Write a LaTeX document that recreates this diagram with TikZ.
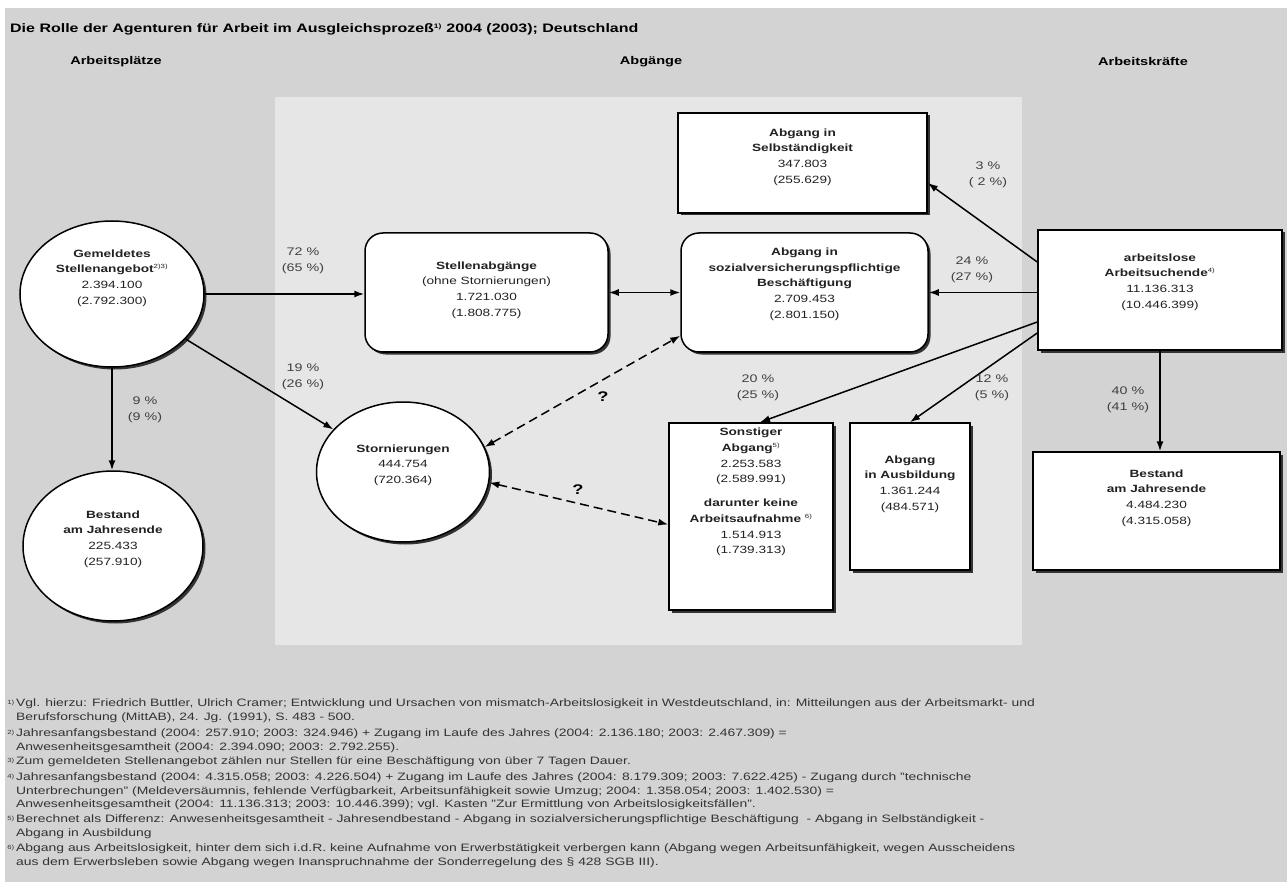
\documentclass[tikz,border=0pt]{standalone}
\usepackage{fontspec}
\setmainfont{Liberation Sans}[FakeStretch=1.3]
\usetikzlibrary{arrows.meta,shapes.geometric,shadows,calc}
\definecolor{bgout}{HTML}{D3D3D3}
\definecolor{bgin}{HTML}{E6E6E6}
\definecolor{txtc}{HTML}{222222}
\begin{document}
\begin{tikzpicture}[x=1pt,y=-1pt,
  shd/.style={drop shadow={shadow xshift=2.5pt,shadow yshift=-2.5pt,fill=black!80,opacity=1}},
  box/.style={draw=black,line width=1.5pt,fill=white,shd,inner sep=0pt},
  rbox/.style={box,rounded corners=18pt},
  ell/.style={ellipse,draw=black,line width=1.5pt,fill=white,shd,inner sep=0pt},
  txt/.style={align=center,inner sep=0pt,text=txtc,font=\fontsize{10.5}{15.7}\selectfont},
  pct/.style={align=center,inner sep=0pt,text=black!75,font=\fontsize{11}{15.5}\selectfont},
  qm/.style={inner sep=0pt,font=\fontsize{14}{16}\selectfont\bfseries},
  hdr/.style={inner sep=0pt,font=\fontsize{11.2}{13}\selectfont\bfseries},
  fn/.style={anchor=north west,align=left,inner sep=0pt,text=black!80,font=\fontsize{10.7}{13.5}\selectfont},
  fnm/.style={anchor=north east,inner sep=0pt,text=black!80,font=\fontsize{6}{7}\selectfont},
  arr/.style={line width=1.5pt,-{Latex[length=10pt,width=7pt]}},
  darr/.style={line width=1.5pt,{Latex[length=10pt,width=7pt]}-{Latex[length=10pt,width=7pt]}},
  dsh/.style={line width=1.5pt,dash pattern=on 9pt off 5pt,{Latex[length=10pt,width=7pt]}-{Latex[length=10pt,width=7pt]}}]
% background
\fill[white] (0,0) rectangle (1287,882);
\fill[bgout] (5,8) rectangle (1287,882);
\fill[bgin] (275,97) rectangle (1022,645);
% title and headers
\node[anchor=base west,inner sep=0pt,font=\fontsize{12.3}{14}\selectfont\bfseries] (title) at (10,33)
  {Die Rolle der Agenturen für Arbeit im Ausgleichsprozeß\textsuperscript{\fontsize{6.5}{7}\selectfont 1)} 2004 (2003); Deutschland};
\node[hdr] (h1) at (116,62) {Arbeitsplätze};
\node[hdr] (h2) at (651,62) {Abgänge};
\node[hdr] (h3) at (1143,62) {Arbeitskräfte};
% shapes
\node[ell,minimum width=184pt,minimum height=146pt] (gem) at (112,294) {};
\node[ell,minimum width=180pt,minimum height=150pt] (bestl) at (113,546) {};
\node[ell,minimum width=173pt,minimum height=140pt] (storn) at (403,472) {};
\node[rbox,minimum width=243pt,minimum height=119pt] (stel) at (486.5,292.5) {};
\node[rbox,minimum width=247pt,minimum height=119pt] (sozv) at (804.5,292.5) {};
\node[box,minimum width=249pt,minimum height=100pt] (selb) at (802.5,163) {};
\node[box,minimum width=244pt,minimum height=120pt] (arbl) at (1160,290) {};
\node[box,minimum width=164pt,minimum height=187pt] (sonst) at (751,516.5) {};
\node[box,minimum width=120pt,minimum height=147pt] (ausb) at (910,496.5) {};
\node[box,minimum width=247pt,minimum height=118pt] (bestr) at (1156.5,511) {};
% texts
\node[txt] (gemt) at (112,278) {\textbf{Gemeldetes}\\\textbf{Stellenangebot}\textsuperscript{\fontsize{6}{7}\selectfont 2)3)}\\2.394.100\\(2.792.300)};
\node[txt] (bestlt) at (113,539) {\textbf{Bestand}\\\textbf{am Jahresende}\\225.433\\(257.910)};
\node[txt] (stornt) at (403,465) {\textbf{Stornierungen}\\444.754\\(720.364)};
\node[txt] (stelt) at (486.5,290) {\textbf{Stellenabgänge}\\(ohne Stornierungen)\\1.721.030\\(1.808.775)};
\node[txt] (sozvt) at (804.5,284) {\textbf{Abgang in}\\\textbf{sozialversicherungspflichtige}\\\textbf{Beschäftigung}\\2.709.453\\(2.801.150)};
\node[txt] (selbt) at (802.5,157) {\textbf{Abgang in}\\\textbf{Selbständigkeit}\\347.803\\(255.629)};
\node[txt] (arblt) at (1160,282) {\textbf{arbeitslose}\\\textbf{Arbeitsuchende}\textsuperscript{\fontsize{6}{7}\selectfont 4)}\\11.136.313\\(10.446.399)};
\node[txt,anchor=north] (sonstt) at (751,428) {\textbf{Sonstiger}\\\textbf{Abgang}\textsuperscript{\fontsize{6}{7}\selectfont 5)}\\2.253.583\\(2.589.991)\\[8pt]\textbf{darunter keine}\\\textbf{Arbeitsaufnahme} \textsuperscript{\fontsize{6}{7}\selectfont 6)}\\1.514.913\\(1.739.313)};
\node[txt] (ausbt) at (910,484) {\textbf{Abgang}\\\textbf{in Ausbildung}\\1.361.244\\(484.571)};
\node[txt] (bestrt) at (1156.5,498) {\textbf{Bestand}\\\textbf{am Jahresende}\\4.484.230\\(4.315.058)};
% connectors
\draw[arr] (gem.east) -- (gem.east -| stel.west);
\draw[arr] (gem) -- (storn);
\draw[arr] (gem.south) -- (gem.south |- bestl.north);
\draw[darr] (stel.east) -- (sozv.east -| sozv.west);
\coordinate (dA) at ($(sozv.south west)+(0,-17)$);
\coordinate (dB) at ($(sonst.west)+(0,8)$);
\draw[dsh] (storn.17) -- (dA);
\draw[dsh] (storn.-7) -- (dB);
\coordinate (a1) at ($(arbl.west)+(0,-28)$);
\coordinate (s1) at ($(selb.east)+(0,20)$);
\draw[arr] (a1) -- (s1);
\draw[arr] (sozv.east -| arbl.west) -- (sozv.east);
\coordinate (a3) at ($(arbl.west)+(0,32)$);
\coordinate (s3) at ($(sonst.north)+(9,0)$);
\draw[arr] (a3) -- (s3);
\coordinate (a4) at ($(arbl.west)+(0,43)$);
\draw[arr] (a4) -- (ausb.north);
\draw[arr] (arbl.south) -- (arbl.south |- bestr.north);
% labels
\node[pct] (p72) at (303,261) {72 \%\\(65 \%)};
\node[pct] (p19) at (303,377) {19 \%\\(26 \%)};
\node[pct] (p9) at (145,410) {9 \%\\(9 \%)};
\node[pct] (p3) at (988,175) {3 \%\\( 2 \%)};
\node[pct] (p24) at (972,270) {24 \%\\(27 \%)};
\node[pct] (p20) at (758,388) {20 \%\\(25 \%)};
\node[pct] (p12) at (992,388) {12 \%\\(5 \%)};
\node[pct] (p40) at (1128,400) {40 \%\\(41 \%)};
\node[qm] (q1) at (603,397) {?};
\node[qm] (q2) at (578,490) {?};
% footnotes
\node[fn] (f1) at (16,699) {Vgl. hierzu: Friedrich Buttler, Ulrich Cramer; Entwicklung und Ursachen von mismatch-Arbeitslosigkeit in Westdeutschland, in: Mitteilungen aus der Arbeitsmarkt- und\\Berufsforschung (MittAB), 24. Jg. (1991), S. 483 - 500.};
\node[fn] (f2) at (16,729) {Jahresanfangsbestand (2004: 257.910; 2003: 324.946) + Zugang im Laufe des Jahres (2004: 2.136.180; 2003: 2.467.309) =\\Anwesenheitsgesamtheit (2004: 2.394.090; 2003: 2.792.255).};
\node[fn] (f3) at (16,757) {Zum gemeldeten Stellenangebot zählen nur Stellen für eine Beschäftigung von über 7 Tagen Dauer.};
\node[fn] (f4) at (16,773) {Jahresanfangsbestand (2004: 4.315.058; 2003: 4.226.504) + Zugang im Laufe des Jahres (2004: 8.179.309; 2003: 7.622.425) - Zugang durch "technische\\Unterbrechungen" (Meldeversäumnis, fehlende Verfügbarkeit, Arbeitsunfähigkeit sowie Umzug; 2004: 1.358.054; 2003: 1.402.530) =\\Anwesenheitsgesamtheit (2004: 11.136.313; 2003: 10.446.399); vgl. Kasten "Zur Ermittlung von Arbeitslosigkeitsfällen".};
\node[fn] (f5) at (16,815) {Berechnet als Differenz: Anwesenheitsgesamtheit - Jahresendbestand - Abgang in sozialversicherungspflichtige Beschäftigung \ - Abgang in Selbständigkeit -\\Abgang in Ausbildung};
\node[fn] (f6) at (16,844) {Abgang aus Arbeitslosigkeit, hinter dem sich i.d.R. keine Aufnahme von Erwerbstätigkeit verbergen kann (Abgang wegen Arbeitsunfähigkeit, wegen Ausscheidens\\aus dem Erwerbsleben sowie Abgang wegen Inanspruchnahme der Sonderregelung des § 428 SGB III).};
\node[fnm] (m1) at ($(f1.north west)+(-1.5,1)$) {1)};
\node[fnm] (m2) at ($(f2.north west)+(-1.5,1)$) {2)};
\node[fnm] (m3) at ($(f3.north west)+(-1.5,1)$) {3)};
\node[fnm] (m4) at ($(f4.north west)+(-1.5,1)$) {4)};
\node[fnm] (m5) at ($(f5.north west)+(-1.5,1)$) {5)};
\node[fnm] (m6) at ($(f6.north west)+(-1.5,1)$) {6)};
\end{tikzpicture}
\end{document}
